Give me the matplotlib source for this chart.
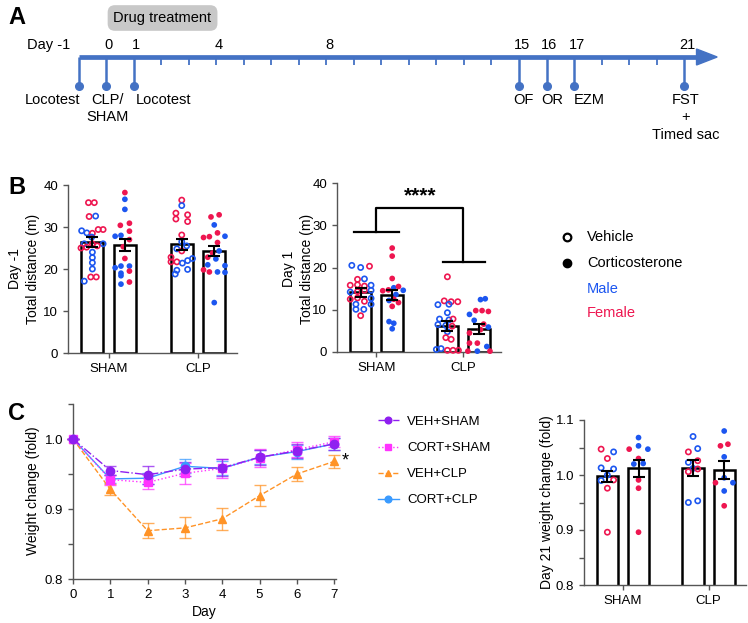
import matplotlib.pyplot as plt
from matplotlib.lines import Line2D
from matplotlib.patches import Polygon

plt.rcParams["font.family"] = ["Liberation Sans", "DejaVu Sans"]

W, H = 748, 623
BLUE = "#1c56f0"
RED = "#ee1650"
TL_BLUE = "#4472c4"
AXC = "#555555"

# ---------------- panel A: timeline ----------------
EVENT_DAYS = [-1, 0, 1, 15, 16, 17, 21]
EVENT_LABELS = ["Locotest", "CLP/\nSHAM", "Locotest", "OF", "OR", "EZM", "FST\n+\nTimed sac"]
NUMBER_DAYS = [0, 1, 4, 8, 15, 16, 17, 21]
TICK_DAYS = [2, 3, 4, 5, 6, 7, 8, 9, 10, 11, 12, 13, 14, 18, 19, 20]
DRUG_DAYS = (0, 4)

# ---------------- panel B: locomotion ----------------
GROUPS = ["SHAM", "CLP"]

# day -1, bars: SHAM-veh, SHAM-cort, CLP-veh, CLP-cort
DM1_MEAN = [26.4, 25.7, 25.9, 24.3]
DM1_SEM = [1.2, 1.4, 1.3, 1.2]
DM1_Y = [
    [35.8, 35.8, 32.5, 32.6, 29.1, 28.6, 28.5, 29.4, 29.4, 27.6, 26.0, 26.0,
     26.0, 25.0, 25.2, 25.5, 24.0, 22.7, 21.5, 20.0, 18.1, 18.1, 17.1],
    [38.2, 36.6, 34.2, 30.4, 30.9, 27.8, 28.0, 29.0, 27.0, 25.3, 22.5, 20.3,
     20.7, 20.7, 19.0, 19.5, 18.4, 16.4, 16.9],
    [36.4, 35.1, 33.3, 32.9, 31.9, 31.3, 28.1, 26.5, 25.5, 24.8, 24.3, 22.8,
     21.7, 21.7, 21.4, 22.0, 22.5, 19.7, 19.9, 18.8],
    [32.4, 32.9, 30.5, 27.5, 27.7, 28.6, 27.8, 26.3, 24.3, 23.8, 22.8, 22.4,
     21.0, 20.8, 19.8, 19.3, 19.3, 19.2, 12.0],
]
DM1_SEX = ["fffmmmfffmmfmfffmmmmffm", "fmmffmmffffmmmmfmmf",
           "fmfffffmmmffffmmmmmm", "ffmfffmfmffmmmffmmm"]
DM1_DX = [
    [-0.12, 0.06, -0.1, 0.1, -0.33, -0.17, 0.0, 0.18, 0.33, -0.02, -0.25, 0.0,
     0.33, -0.35, -0.18, 0.15, 0.0, 0.0, 0.0, 0.0, -0.05, 0.12, -0.25],
    [0, 0, 0, -0.14, 0.14, -0.3, -0.12, 0.14, 0.14, -0.05, 0, -0.3, -0.12, 0.14,
     -0.12, 0.14, -0.12, -0.12, 0.14],
    [0, 0, -0.18, 0.18, -0.18, 0.18, 0, 0, 0.15, -0.15, 0, -0.33, -0.33, -0.15,
     0.02, 0.18, 0.33, -0.15, 0.18, -0.2],
    [-0.1, 0.15, 0, -0.33, -0.15, 0.1, 0.33, 0.1, 0.15, -0.05, -0.2, 0.05, -0.2,
     0.33, -0.33, -0.15, 0.1, 0.33, 0],
]

# day 1
D1_MEAN = [14.1, 13.5, 6.1, 5.5]
D1_SEM = [1.0, 1.1, 1.2, 1.2]
D1_Y = [
    [20.5, 20.0, 20.3, 17.2, 17.3, 15.8, 15.9, 15.6, 15.8, 14.2, 14.3, 14.6,
     14.6, 12.5, 12.8, 12.0, 12.7, 11.3, 11.3, 10.1, 10.1, 8.6],
    [24.6, 22.7, 17.4, 14.5, 14.7, 15.2, 15.5, 14.6, 13.6, 12.2, 12.5, 11.7,
     10.8, 7.2, 6.8, 5.5],
    [17.8, 12.1, 11.9, 11.9, 11.2, 11.3, 9.3, 7.8, 7.6, 7.8, 6.5, 6.3, 6.1,
     4.8, 3.4, 3.0, 0.6, 0.8, 0.4, 0.4, 0.4],
    [12.4, 12.6, 8.9, 9.8, 9.8, 9.6, 7.5, 6.6, 5.9, 5.3, 4.5, 2.1, 2.1, 1.3,
     0.2, 0.2, 0.2],
]
D1_SEX = ["mmffmfffmmffmfffmmmmmf", "fffffmfmmmfffmmm",
          "ffffmmmmmfmmfmffmmfff", "mmmfffmfmffffmfmf"]
D1_DX = [
    [-0.28, 0.0, 0.28, -0.1, 0.12, -0.33, -0.1, 0.12, 0.33, -0.33, -0.1, 0.12,
     0.33, -0.33, -0.1, 0.12, 0.33, -0.15, 0.33, -0.15, 0.1, 0.0],
    [0, 0, 0, -0.3, -0.12, 0.05, 0.2, 0.35, 0.12, -0.1, 0.05, 0.2, 0.0, -0.1,
     0.05, 0.0],
    [0, -0.1, 0.12, 0.33, -0.3, 0.05, 0, -0.25, 0.05, 0.18, -0.3, -0.05, 0.15,
     0, -0.05, 0.12, -0.35, -0.2, 0, 0.18, 0.35],
    [0.05, 0.2, -0.3, -0.1, 0.1, 0.3, -0.15, 0.15, 0.3, 0.05, -0.3, -0.3, -0.05,
     0.25, -0.35, -0.05, 0.35],
]

# ---------------- panel C: weight ----------------
DAYS = [0, 1, 2, 3, 4, 5, 6, 7]
VEH_SHAM = [1.0, 0.955, 0.949, 0.957, 0.959, 0.974, 0.983, 0.993]
VEH_SHAM_SEM = [0, 0.006, 0.013, 0.010, 0.012, 0.011, 0.010, 0.008]
CORT_SHAM = [1.0, 0.942, 0.938, 0.951, 0.958, 0.973, 0.985, 0.996]
CORT_SHAM_SEM = [0, 0.007, 0.010, 0.015, 0.013, 0.013, 0.011, 0.008]
VEH_CLP = [1.0, 0.928, 0.869, 0.873, 0.886, 0.919, 0.950, 0.968]
VEH_CLP_SEM = [0, 0.008, 0.011, 0.015, 0.016, 0.015, 0.010, 0.009]
CORT_CLP = [1.0, 0.943, 0.944, 0.961, 0.958, 0.974, 0.982, 0.993]
CORT_CLP_SEM = [0, 0.006, 0.008, 0.010, 0.010, 0.010, 0.010, 0.008]

D21_MEAN = [0.998, 1.012, 1.013, 1.009]
D21_SEM = [0.010, 0.016, 0.014, 0.017]
D21_Y = [
    [1.047, 1.042, 1.030, 1.013, 1.011, 1.000, 0.990, 0.991, 0.976, 0.896],
    [1.068, 1.047, 1.053, 1.047, 1.020, 1.030, 1.021, 0.991, 0.976, 0.896],
    [1.070, 1.042, 1.048, 1.023, 1.026, 1.012, 1.006, 1.011, 0.950, 0.953],
    [1.080, 1.053, 1.056, 1.033, 0.995, 0.986, 0.986, 0.971, 0.944],
]
D21_SEX = ["fmfmmmmfff", "mfmmmfmfff", "mfmmfmffmm", "mffmmfmmf"]
D21_DX = [
    [-0.2, 0.2, 0, -0.2, 0.2, 0, -0.2, 0.2, 0, 0],
    [0, -0.3, 0, 0.3, -0.15, 0, 0.15, 0, 0, 0],
    [0, -0.15, 0.15, -0.15, 0.15, 0, -0.15, 0.15, -0.15, 0.15],
    [0, -0.12, 0.12, 0, 0, -0.28, 0.28, 0, 0],
]

BAR_X = [1, 2, 3.75, 4.75]
FILLED = [False, True, False, True]


def rect(x0, y0, x1, y1):
    return [x0 / W, 1 - y1 / H, (x1 - x0) / W, (y1 - y0) / H]


def fx(x):
    return x / W


def fy(y):
    return 1 - y / H


def style(ax):
    for s in ("top", "right"):
        ax.spines[s].set_visible(False)
    for s in ("left", "bottom"):
        ax.spines[s].set_color(AXC)
        ax.spines[s].set_linewidth(1.0)
    ax.tick_params(which="both", colors=AXC, labelcolor="black", width=1, labelsize=9.5)
    ax.tick_params(which="major", length=3.5)
    ax.tick_params(which="minor", length=3.5)


def dot_bars(ax, means, sems, ys, sexes, dxs):
    ax.bar(BAR_X, means, width=0.68, color="white", edgecolor="black",
           linewidth=1.8, zorder=2)
    for x, y, sex, dx, fill in zip(BAR_X, ys, sexes, dxs, FILLED):
        cols = [BLUE if s == "m" else RED for s in sex]
        xx = [x + d for d in dx]
        if fill:
            ax.scatter(xx, y, s=17, c=cols, linewidths=0, zorder=3, clip_on=False)
        else:
            ax.scatter(xx, y, s=14, facecolors="none", edgecolors=cols,
                       linewidths=1.2, zorder=3, clip_on=False)
    ax.errorbar(BAR_X, means, yerr=sems, fmt="none", ecolor="black",
                elinewidth=1.5, capsize=4, capthick=1.5, zorder=4)
    ax.set_xlim(0.25, 5.45)
    ax.set_xticks([1.5, 4.25])
    ax.set_xticklabels(GROUPS, fontsize=9)
    style(ax)


fig = plt.figure(figsize=(W / 100, H / 100), dpi=100)

# ---- A
ax = fig.add_axes([0, 1 - 160 / H, 1, 160 / H])
ax.set_xlim(-3.856, 23.32)
ax.set_ylim(160, 0)
ax.axis("off")
ax.plot([-1, 21.55], [57, 57], color=TL_BLUE, lw=3.4, solid_capstyle="butt", zorder=3)
ax.add_patch(Polygon([(21.45, 49), (22.2, 57), (21.45, 65)], closed=True,
                     color=TL_BLUE, zorder=3))
ax.vlines(TICK_DAYS, 57, 65, color=TL_BLUE, lw=1.3)
ax.vlines(EVENT_DAYS, 57, 86, color=TL_BLUE, lw=1.8)
ax.plot(EVENT_DAYS, [86] * len(EVENT_DAYS), "o", color=TL_BLUE, ms=5.5)
ax.text(-1.3, 45, "Day -1", ha="right", va="center", fontsize=10.5)
for d in NUMBER_DAYS:
    ax.text(d + 0.1, 45, str(d), ha="center", va="center", fontsize=10.5)
label_dx = [-0.95, 0.05, 1.1, 0.15, 0.2, 0.55, 0.05]
for d, lab, dx in zip(EVENT_DAYS, EVENT_LABELS, label_dx):
    ax.text(d + dx, 93, lab, ha="center", va="top", fontsize=10.5, linespacing=1.3)
ax.text(sum(DRUG_DAYS) / 2 + 0.05, 18, "Drug treatment", ha="center", va="center",
        fontsize=10.5,
        bbox=dict(boxstyle="round,pad=0.4,rounding_size=0.5", fc="#c8c8c8", ec="none"))

fig.text(fx(8), fy(18), "A", fontsize=17, fontweight="bold", va="center")
fig.text(fx(8), fy(188), "B", fontsize=17, fontweight="bold", va="center")
fig.text(fx(8), fy(413), "C", fontsize=17, fontweight="bold", va="center")

# ---- B left
ax1 = fig.add_axes(rect(68, 185, 237, 353))
dot_bars(ax1, DM1_MEAN, DM1_SEM, DM1_Y, DM1_SEX, DM1_DX)
ax1.set_ylim(0, 40)
ax1.set_yticks([0, 10, 20, 30, 40])
fig.text(fx(24), fy(269), "Day -1\nTotal distance (m)", rotation=90, ha="center",
         va="center", multialignment="center", fontsize=10, linespacing=1.3)

# ---- B right
ax2 = fig.add_axes(rect(337, 183, 501, 352))
dot_bars(ax2, D1_MEAN, D1_SEM, D1_Y, D1_SEX, D1_DX)
ax2.set_ylim(0, 40)
ax2.set_yticks([0, 10, 20, 30, 40])
fig.text(fx(298), fy(269), "Day 1\nTotal distance (m)", rotation=90, ha="center",
         va="center", multialignment="center", fontsize=10, linespacing=1.3)
gx = [1.5, 4.25]
ax2.plot([gx[0], gx[0], gx[1], gx[1]], [28.4, 34, 34, 21.4], color="black", lw=1.6,
         zorder=5)
ax2.plot([0.8, 2.2], [28.4, 28.4], color="black", lw=1.6)
ax2.plot([3.6, 4.95], [21.4, 21.4], color="black", lw=1.6, clip_on=False)
ax2.text(sum(gx) / 2, 34.6, "****", ha="center", va="bottom", fontsize=15,
         fontweight="bold")

# legend B
fig.add_artist(Line2D([fx(567)], [fy(237)], marker="o", ms=5.5, mfc="white",
                      mec="black", mew=1.6, transform=fig.transFigure))
fig.add_artist(Line2D([fx(567)], [fy(263)], marker="o", ms=6, mfc="black",
                      mec="black", transform=fig.transFigure))
fig.text(fx(587), fy(237), "Vehicle", va="center", fontsize=10.5)
fig.text(fx(587), fy(263), "Corticosterone", va="center", fontsize=10.5)
fig.text(fx(587), fy(289), "Male", va="center", fontsize=10.5, color=BLUE)
fig.text(fx(587), fy(313), "Female", va="center", fontsize=10.5, color=RED)

# ---- C left
ax3 = fig.add_axes(rect(73, 404, 336, 579))
series = [
    ("CORT+CLP", CORT_CLP, CORT_CLP_SEM, "#3a9bff", "o", "-"),
    ("VEH+CLP", VEH_CLP, VEH_CLP_SEM, "#ff9326", "^", "--"),
    ("CORT+SHAM", CORT_SHAM, CORT_SHAM_SEM, "#ff33ff", "s", ":"),
    ("VEH+SHAM", VEH_SHAM, VEH_SHAM_SEM, "#8f1ff0", "o", "-."),
]
handles = {}
for name, vals, sem, col, mk, ls in series:
    ax3.errorbar(DAYS, vals, yerr=sem, color=col, ecolor=col, elinewidth=1,
                 capsize=4, capthick=1, alpha=0.75, fmt="none", clip_on=False)
    h, = ax3.plot(DAYS, vals, color=col, marker=mk, ms=6, ls=ls, lw=1,
                  clip_on=False, zorder=3)
    handles[name] = h
ax3.set_xlim(0, 7.05)
ax3.set_ylim(0.8, 1.05)
ax3.set_xticks(DAYS)
ax3.set_yticks([0.8, 0.9, 1.0])
ax3.set_yticklabels(["0.8", "0.9", "1.0"])
ax3.set_yticks([0.85, 0.95, 1.05], minor=True)
ax3.set_xlabel("Day", fontsize=10, labelpad=3)
style(ax3)
fig.text(fx(33), fy(491), "Weight change (fold)", rotation=90, ha="center",
         va="center", fontsize=10)
ax3.text(7.3, VEH_CLP[-1], "*", ha="center", va="center", fontsize=13, clip_on=False)
order = ["VEH+SHAM", "CORT+SHAM", "VEH+CLP", "CORT+CLP"]
fig.legend([handles[n] for n in order], order, loc="upper left",
           bbox_to_anchor=(fx(366), fy(404)), frameon=False, fontsize=9.5,
           handlelength=1.6, labelspacing=1.05, handletextpad=0.6, markerscale=0.8)

# ---- C right
ax4 = fig.add_axes(rect(584, 420, 746, 585))
dot_bars(ax4, D21_MEAN, D21_SEM, D21_Y, D21_SEX, D21_DX)
ax4.set_ylim(0.8, 1.1)
ax4.set_yticks([0.8, 0.9, 1.0, 1.1])
ax4.set_yticklabels(["0.8", "0.9", "1.0", "1.1"])
ax4.set_yticks([0.85, 0.95, 1.05], minor=True)
fig.text(fx(547), fy(502), "Day 21 weight change (fold)", rotation=90, ha="center",
         va="center", fontsize=10)

fig.savefig("out.png", dpi=100)
